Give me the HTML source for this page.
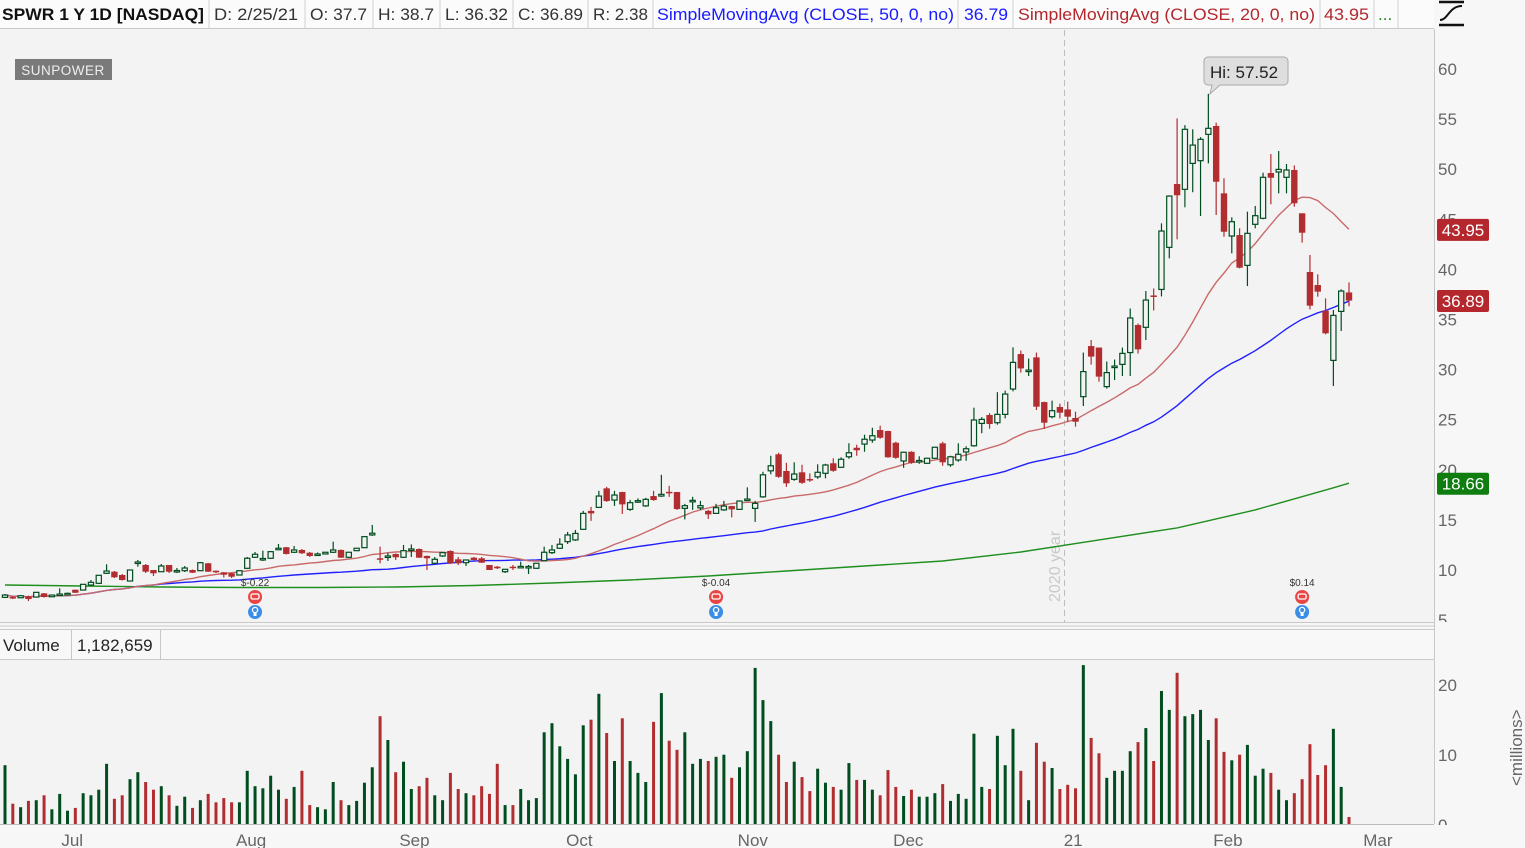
<!DOCTYPE html>
<html><head><meta charset="utf-8"><style>
html,body{margin:0;padding:0;width:1525px;height:848px;overflow:hidden;background:#f7f7f7;font-family:"Liberation Sans",sans-serif;}
svg text{font-family:"Liberation Sans",sans-serif;}
</style></head><body>
<svg id="chart" width="1525" height="848" viewBox="0 0 1525 848" xmlns="http://www.w3.org/2000/svg">
<defs>
<clipPath id="priceAxisClip"><rect x="1435" y="29" width="90" height="593"/></clipPath>
<clipPath id="volAxisClip"><rect x="1435" y="660" width="90" height="165"/></clipPath>
</defs>
<rect x="0" y="0" width="1525" height="848" fill="#f7f7f7"/>
<rect x="0" y="29" width="1434" height="593" fill="#f3f3f3"/>
<rect x="0" y="659" width="1434" height="165" fill="#f3f3f3"/>
<g>
<rect x="0" y="0" width="1434" height="28" fill="#fbfbfb"/>
<line x1="0" y1="28.5" x2="1434" y2="28.5" stroke="#c8c8c8"/>
<text x="2" y="20" font-size="17" font-weight="bold" fill="#111" textLength="202" lengthAdjust="spacingAndGlyphs">SPWR 1 Y 1D [NASDAQ]</text>
<text x="214" y="20" font-size="17" fill="#333" textLength="84" lengthAdjust="spacingAndGlyphs">D: 2/25/21</text>
<text x="310" y="20" font-size="17" fill="#333" textLength="57" lengthAdjust="spacingAndGlyphs">O: 37.7</text>
<text x="378" y="20" font-size="17" fill="#333" textLength="56" lengthAdjust="spacingAndGlyphs">H: 38.7</text>
<text x="445" y="20" font-size="17" fill="#333" textLength="63" lengthAdjust="spacingAndGlyphs">L: 36.32</text>
<text x="518" y="20" font-size="17" fill="#333" textLength="65" lengthAdjust="spacingAndGlyphs">C: 36.89</text>
<text x="593" y="20" font-size="17" fill="#333" textLength="55" lengthAdjust="spacingAndGlyphs">R: 2.38</text>
<text x="657" y="20" font-size="17" fill="#1a1aff" textLength="297" lengthAdjust="spacingAndGlyphs">SimpleMovingAvg (CLOSE, 50, 0, no)</text>
<text x="964" y="20" font-size="17" fill="#1a1aff" textLength="44" lengthAdjust="spacingAndGlyphs">36.79</text>
<text x="1018" y="20" font-size="17" fill="#b3272d" textLength="297" lengthAdjust="spacingAndGlyphs">SimpleMovingAvg (CLOSE, 20, 0, no)</text>
<text x="1324" y="20" font-size="17" fill="#b3272d" textLength="45" lengthAdjust="spacingAndGlyphs">43.95</text>
<text x="1378" y="20" font-size="17" fill="#1a8a1a">...</text>
<g stroke="#d0d0d0">
<line x1="209" y1="0" x2="209" y2="28"/><line x1="305" y1="0" x2="305" y2="28"/><line x1="373" y1="0" x2="373" y2="28"/>
<line x1="440" y1="0" x2="440" y2="28"/><line x1="513" y1="0" x2="513" y2="28"/><line x1="588" y1="0" x2="588" y2="28"/>
<line x1="653" y1="0" x2="653" y2="28"/><line x1="958" y1="0" x2="958" y2="28"/><line x1="1013" y1="0" x2="1013" y2="28"/>
<line x1="1320" y1="0" x2="1320" y2="28"/><line x1="1374" y1="0" x2="1374" y2="28"/><line x1="1398" y1="0" x2="1398" y2="28"/>
</g>
</g>
<g stroke="#111" fill="none" stroke-width="2.5">
<line x1="1439" y1="2" x2="1464" y2="2"/><line x1="1439" y1="25" x2="1464" y2="25"/>
<path d="M1440 20 C1448 20 1449 6 1462 6" stroke-width="2"/>
</g>
<line x1="1434.5" y1="29" x2="1434.5" y2="824" stroke="#c8c8c8"/>
<line x1="0" y1="622.5" x2="1434" y2="622.5" stroke="#c8c8c8"/>
<line x1="0" y1="626" x2="1434" y2="626" stroke="#e0e0e0" stroke-width="2"/>
<line x1="0" y1="629.5" x2="1434" y2="629.5" stroke="#c8c8c8"/>
<rect x="0" y="630" width="1434" height="29" fill="#f8f8f8"/>
<line x1="0" y1="659.5" x2="1434" y2="659.5" stroke="#c8c8c8"/>
<text x="3" y="651" font-size="17" fill="#222">Volume</text>
<line x1="71.5" y1="630" x2="71.5" y2="659" stroke="#c8c8c8"/>
<text x="77" y="651" font-size="17" fill="#222">1,182,659</text>
<line x1="160.5" y1="630" x2="160.5" y2="659" stroke="#c8c8c8"/>
<line x1="0" y1="824.5" x2="1434" y2="824.5" stroke="#bbb"/>
<g>
<rect x="15" y="59" width="97" height="21" fill="#7a7a7a"/>
<text x="63" y="75" font-size="13.5" fill="#eee" text-anchor="middle" letter-spacing="0.5">SUNPOWER</text>
</g>
<line x1="1064.5" y1="30" x2="1064.5" y2="622" stroke="#bdbdbd" stroke-dasharray="6,4"/>
<text transform="translate(1060,602) rotate(-90)" font-size="16" fill="#c9c9c9">2020 year</text>
<g id="sma200"></g><g id="sma50"></g><g id="sma20"></g>
<g id="candles"></g>
<g id="volumes"></g>
<g id="events"></g>
<g>
<path d="M1208 57 h76 a4 4 0 0 1 4 4 v20 a4 4 0 0 1 -4 4 h-64 l-10 9 l2 -9 h-4 a4 4 0 0 1 -4 -4 v-20 a4 4 0 0 1 4 -4z" fill="#dedede" stroke="#aaa"/>
<text x="1210" y="78" font-size="17" fill="#222">Hi: 57.52</text>
</g>
<g id="priceAxis" clip-path="url(#priceAxisClip)"></g>
<g id="volAxis" clip-path="url(#volAxisClip)"></g>
<g id="axes"></g>
<text transform="translate(1522,786) rotate(-90)" font-size="17" fill="#666">&lt;millions&gt;</text>
</svg>
<script>
const opens=[7.27,7.3,7.23,7.37,7.3,7.67,7.33,7.57,7.65,8.03,8.0,8.5,8.67,9.67,9.83,9.5,8.9,10.74,10.5,10.0,9.83,10.5,9.9,9.93,10.0,9.93,10.67,9.93,9.77,9.67,9.5,10.17,11.27,11.1,11.17,12.13,12.27,11.77,12.0,11.73,11.57,11.6,11.77,12.0,11.27,11.93,12.23,13.5,11.17,11.38,11.6,11.27,12.07,12.1,11.4,10.67,11.4,11.9,11.07,10.73,11.23,11.17,10.5,10.33,9.83,10.33,10.33,10.3,10.17,10.93,11.73,12.17,12.83,13.0,14.06,15.9,16.25,18.15,16.98,17.78,16.05,16.9,16.4,17.38,17.38,17.8,17.78,16.15,16.9,16.2,15.9,15.65,16.0,16.38,16.05,17.02,16.15,17.3,19.9,21.55,19.88,19.05,19.75,19.08,19.3,19.65,20.65,20.25,21.3,22.2,22.57,22.97,23.97,23.87,22.7,20.88,21.8,20.9,20.65,21.15,22.64,20.5,20.98,21.78,22.4,24.63,25.47,24.7,25.53,28.06,31.55,29.88,31.22,26.76,25.3,26.27,26.03,25.17,27.3,32.35,32.2,28.3,30.3,30.52,31.7,34.45,34.22,37.4,38.0,42.2,48.52,47.99,50.58,50.85,53.48,54.31,47.59,43.33,43.43,40.4,44.5,45.1,49.62,49.72,49.19,49.92,45.6,39.74,38.44,35.88,30.92,35.81,37.7];
const closes=[7.5,7.25,7.43,7.1,7.77,7.3,7.5,7.6,7.67,7.73,8.57,8.77,9.47,9.9,9.27,9.0,10.0,10.8,9.83,9.67,10.4,9.83,9.95,10.2,9.73,10.73,9.83,9.77,9.53,9.33,9.93,11.17,11.57,11.15,11.83,12.17,11.6,12.0,11.67,11.4,11.6,11.77,12.0,11.23,11.77,12.17,13.33,13.67,11.07,11.4,11.27,11.93,12.1,11.23,11.17,11.07,11.73,10.67,10.67,11.0,11.0,10.73,10.0,10.17,10.07,10.3,10.36,10.35,10.67,11.77,12.0,12.57,13.5,13.65,15.65,15.65,17.38,16.88,17.48,16.55,16.72,16.92,17.05,16.98,17.55,17.75,16.08,16.42,16.95,16.42,15.55,16.22,16.38,16.05,16.88,17.08,16.65,19.5,20.4,19.3,18.65,19.58,18.7,19.05,19.75,20.48,19.9,21.05,21.7,21.95,23.05,23.4,23.2,21.25,21.2,21.75,20.7,20.93,21.15,22.25,20.75,21.3,21.55,22.1,24.97,25.03,24.57,25.53,27.56,30.72,30.12,29.95,26.3,24.7,25.9,25.7,25.3,24.8,29.8,31.3,29.3,29.7,30.35,31.62,35.15,32.02,36.94,37.3,43.83,47.32,47.4,53.98,52.41,52.98,54.08,48.75,43.76,44.76,40.17,43.6,45.36,49.19,49.15,49.98,49.92,46.6,43.66,36.38,37.78,33.62,35.41,37.84,36.89];
const highs=[7.6,7.4,7.5,7.45,7.8,7.7,7.55,8.17,7.75,8.05,8.6,9.0,9.5,10.57,9.9,9.6,10.05,11.0,10.6,10.0,10.6,10.5,10.2,10.4,10.05,10.8,10.7,9.95,9.8,9.7,9.95,11.3,11.8,11.93,11.9,12.6,12.3,12.4,12.1,11.8,11.75,11.8,12.83,12.05,11.8,12.2,13.4,14.5,12.33,11.7,11.65,12.5,12.55,12.15,11.45,11.3,11.8,11.95,11.3,11.05,11.3,11.3,10.5,10.4,10.1,10.5,10.83,10.5,10.7,12.33,12.5,13.17,13.8,14.0,15.9,16.3,17.9,18.3,17.9,17.8,17.0,17.15,17.2,17.9,19.5,18.4,17.8,16.6,17.3,16.9,16.0,16.6,16.9,16.4,16.95,18.25,16.9,19.8,21.4,21.7,20.7,20.75,20.5,19.65,20.55,20.6,21.15,21.25,22.65,22.5,23.5,24.2,24.4,23.9,22.8,21.8,21.85,21.35,21.2,22.3,22.8,21.4,22.65,22.35,26.2,25.25,25.65,27.75,27.9,32.22,31.9,31.1,31.7,26.8,26.9,26.6,26.8,25.8,31.7,32.95,32.2,30.8,31.0,32.2,36.1,34.6,37.84,38.1,44.6,47.4,55.07,54.4,53.98,53.2,57.52,54.64,49.09,45.2,44.1,45.76,46.33,49.65,51.51,51.81,50.52,50.38,45.6,41.44,39.51,37.11,35.95,38.01,38.7];
const lows=[7.2,7.1,7.2,6.9,7.25,7.25,7.3,7.5,7.6,7.7,7.95,8.4,8.6,9.6,9.2,8.95,8.85,10.33,9.7,9.4,9.8,9.7,9.7,9.8,9.7,9.9,9.8,9.7,9.25,9.2,9.45,10.1,11.2,10.9,11.1,12.1,11.55,11.7,11.6,11.3,11.5,11.55,11.7,11.2,11.2,11.9,12.2,13.4,10.67,10.9,11.0,11.2,11.3,11.2,10.0,10.6,11.3,10.6,10.5,10.4,10.9,10.7,10.0,10.1,9.7,10.0,10.3,9.6,10.1,10.9,11.6,12.1,12.6,12.9,14.0,14.9,16.2,16.8,16.4,15.6,15.9,16.7,16.3,16.9,17.3,17.3,16.0,15.05,16.0,16.0,15.1,15.6,15.9,15.25,16.0,16.9,14.8,17.2,19.55,19.2,18.3,18.9,18.6,18.8,19.1,19.15,19.8,20.2,21.1,21.4,21.8,22.7,23.1,21.2,21.1,20.2,20.6,20.6,20.6,21.1,20.4,20.3,20.8,20.9,22.3,23.65,24.1,24.5,25.13,27.83,29.7,29.36,25.97,24.07,25.13,25.13,24.8,24.3,26.37,30.5,28.8,28.1,28.96,29.36,29.36,31.6,32.95,35.9,37.3,41.1,43.0,46.2,47.7,45.33,50.58,45.43,43.26,41.6,40.1,38.34,44.1,45.0,46.5,47.59,47.59,46.26,42.67,36.01,37.28,33.52,28.36,33.85,36.32];
const volumes=[8.4,2.9,2.4,3.3,3.4,4.1,2.1,4.3,1.9,2.3,4.4,4.1,4.9,8.6,3.6,4.1,6.4,7.4,6.0,4.9,5.4,4.1,2.6,3.9,2.3,3.4,4.3,3.1,3.7,3.1,3.1,7.6,5.4,5.1,6.9,4.9,3.6,5.3,7.6,2.7,2.4,2.1,6.0,3.4,2.7,3.3,5.9,8.1,15.4,12.0,7.4,8.9,5.0,5.4,6.6,4.1,3.4,7.3,5.0,4.4,4.1,5.4,4.3,8.6,2.7,2.7,5.0,3.4,3.7,13.1,14.4,11.1,9.3,7.1,14.1,14.9,18.6,13.0,9.0,15.1,9.0,7.3,6.0,14.6,18.7,11.9,10.6,13.1,8.6,9.3,9.0,9.6,9.9,6.6,8.1,10.4,22.3,17.7,14.7,9.9,6.0,8.9,6.7,4.7,7.9,5.9,5.3,4.9,8.7,6.3,6.3,4.9,4.1,7.7,5.3,4.0,4.9,3.9,3.9,4.4,5.7,3.3,4.3,3.6,12.9,5.3,5.0,12.6,8.4,13.6,7.6,3.4,11.6,8.9,8.0,5.0,5.6,5.1,22.7,12.3,10.1,6.6,7.6,7.6,10.4,11.7,13.7,9.0,19.0,16.3,21.6,15.4,15.7,16.3,12.0,15.1,10.3,9.1,9.9,11.3,6.9,7.9,7.3,4.9,3.4,4.4,6.4,11.4,7.0,8.4,13.6,5.3,1.0];
const sma200Idx=[0,10,20,30,40,50,60,70,80,90,100,110,120,130,140,150,160,170,172];
const sma200Vals=[8.5,8.4,8.3,8.25,8.25,8.3,8.45,8.7,9.0,9.4,9.9,10.4,10.9,11.8,13.0,14.2,16.0,18.2,18.66];
const priceTicks=[60,55,50,45,40,35,30,25,20,15,10,5];
const volTicks=[20,10,0];
const monthLabels=["Jul","Aug","Sep","Oct","Nov","Dec","21","Feb","Mar"];
const monthIdx=[8.6,31.5,52.4,73.5,95.7,115.6,136.7,156.5,175.7];
const earnIdx=[32,91,166];
const earnLabels=["$-0.22","$-0.04","$0.14"];

const NS="http://www.w3.org/2000/svg";
const N=closes.length;
const X=i=>5+i*7.814;
const Y=p=>570-(p-10)*10.02;
const VY=v=>824-v*7.0;
function mk(tag,attrs,parent){const e=document.createElementNS(NS,tag);for(const k in attrs)e.setAttribute(k,attrs[k]);parent.appendChild(e);return e;}
const GREEN="#004d1f",RED="#b22d30";

function sma(n){const out=[];for(let i=0;i<N;i++){const s=Math.max(0,i-n+1);let t=0;for(let j=s;j<=i;j++)t+=closes[j];out.push(t/(i-s+1));}return out;}
function drawLine(gid,idx,vals,color,name){
  const g=document.getElementById(gid);
  const d=idx.map((ix,k)=>(k?"L":"M")+X(ix).toFixed(1)+" "+Y(vals[k]).toFixed(1)).join(" ");
  const p=mk("path",{d:d,fill:"none",stroke:color,"stroke-width":1.4},g);
  
  
}
const allIdx=closes.map((c,i)=>i);
drawLine("sma200",sma200Idx,sma200Vals,"#1f8f1f","sma200-line");
drawLine("sma50",allIdx,sma(50),"#2020ff","sma50-line");
drawLine("sma20",allIdx,sma(20),"#c96a6a","sma20-line");

const cg=document.getElementById("candles");
for(let i=0;i<N;i++){
  const up=closes[i]>=opens[i];const col=up?GREEN:RED;const x=X(i);
  const g=mk("g",{},cg);
  
  
  mk("line",{x1:x,x2:x,y1:Y(highs[i]),y2:Y(lows[i]),stroke:col,"stroke-width":1.2},g);
  const top=Y(Math.max(opens[i],closes[i])),bot=Y(Math.min(opens[i],closes[i]));
  const h=Math.max(bot-top,1.5);
  if(up) mk("rect",{x:x-2.6,y:top,width:5.2,height:h,fill:"#f3f3f3",stroke:col,"stroke-width":1.2},g);
  else mk("rect",{x:x-3.2,y:top,width:6.4,height:h,fill:col},g);
}
const vg=document.getElementById("volumes");
for(let i=0;i<N;i++){
  const up=closes[i]>=opens[i];
  const r=mk("rect",{x:X(i)-1.5,y:VY(volumes[i]),width:3,height:824-VY(volumes[i]),fill:up?GREEN:RED},vg);
  
  
}
const eg=document.getElementById("events");
for(let k=0;k<earnIdx.length;k++){
  const x=X(earnIdx[k]);
  const t=mk("text",{x:x,y:586,"font-size":10,"text-anchor":"middle",fill:"#333","font-family":"Liberation Mono, monospace"},eg);
  t.textContent=earnLabels[k];
  
  
  const c1=mk("circle",{cx:x,cy:597,r:7,fill:"#e84545"},eg);
  
  
  mk("rect",{x:x-4,y:594,width:8,height:5,rx:1.5,fill:"none",stroke:"#fff","stroke-width":1.3},eg);
  const c2=mk("circle",{cx:x,cy:612,r:7,fill:"#3a8ee6"},eg);
  
  
  mk("circle",{cx:x,cy:610,r:2.6,fill:"none",stroke:"#fff","stroke-width":1.3},eg);
  mk("rect",{x:x-1.5,y:613,width:3,height:3,fill:"#fff"},eg);
}
const ag=document.getElementById("axes");
const pa=document.getElementById("priceAxis");
const va=document.getElementById("volAxis");
priceTicks.forEach(p=>{
  const t=mk("text",{x:1438,y:Y(p)+6,"font-size":17,fill:"#666"},pa);
  t.textContent=p;
  
  
});
volTicks.forEach(v=>{
  const t=mk("text",{x:1438,y:VY(v)+7,"font-size":17,fill:"#666"},va);
  t.textContent=v;
  
  
});
monthLabels.forEach((m,k)=>{
  const t=mk("text",{x:X(monthIdx[k]),y:846,"font-size":17,fill:"#666","text-anchor":"middle"},ag);
  t.textContent=m;
  
  
});
const s20=sma(20);
const tags=[[s20[N-1],"#b3272d","43.95","sma20-tag"],[closes[N-1],"#b3272d","36.89","last-price-tag"],[sma200Vals[sma200Vals.length-1],"#0f7d0f","18.66","sma200-tag"]];
tags.forEach(tg=>{
  const y=Y(tg[0]);
  const g=mk("g",{},ag);
  
  
  mk("rect",{x:1437,y:y-10.5,width:52,height:22,rx:2,fill:tg[1]},g);
  const t=mk("text",{x:1463,y:y+6.5,"font-size":17,fill:"#fff","text-anchor":"middle"},g);
  t.textContent=tg[2];
});
</script>
</body></html>
